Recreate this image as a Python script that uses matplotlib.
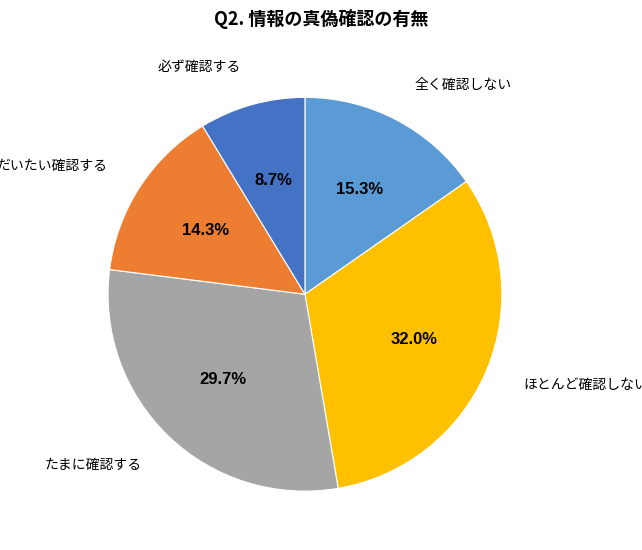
import matplotlib
matplotlib.use("Agg")
import matplotlib.pyplot as plt

plt.rcParams['font.family'] = ['Noto Sans CJK JP', 'DejaVu Sans']

labels = ["全く確認しない", "ほとんど確認しない", "たまに確認する", "だいたい確認する", "必ず確認する"]
values = [15.3, 32.0, 29.7, 14.3, 8.7]
colors = ["#5B9BD5", "#FFC000", "#A5A5A5", "#ED7D31", "#4472C4"]

fig = plt.figure(figsize=(6.42, 5.5), dpi=100)
ax = fig.add_axes([0.168, 0.107, 0.614, 0.716])
wedges, texts, autotexts = ax.pie(values, labels=labels, colors=colors, startangle=90,
                                  counterclock=False, autopct='%.1f%%', pctdistance=0.6,
                                  labeldistance=1.2, textprops=dict(fontsize=10),
                                  wedgeprops=dict(linewidth=0.8, edgecolor='white'))
for t in autotexts:
    t.set_fontsize(12)
    t.set_fontweight('bold')
    t.set_family(['Liberation Sans', 'DejaVu Sans'])
for t in texts:
    t.set_clip_on(False)
ax.set_xlim(-1, 1)
ax.set_ylim(-1, 1)
ax.set_aspect('equal')
fig.text(0.5, 0.965, "Q2. 情報の真偽確認の有無", ha='center', va='center', fontsize=13, fontweight='bold')
fig.savefig("out.png", dpi=100, facecolor='white')
